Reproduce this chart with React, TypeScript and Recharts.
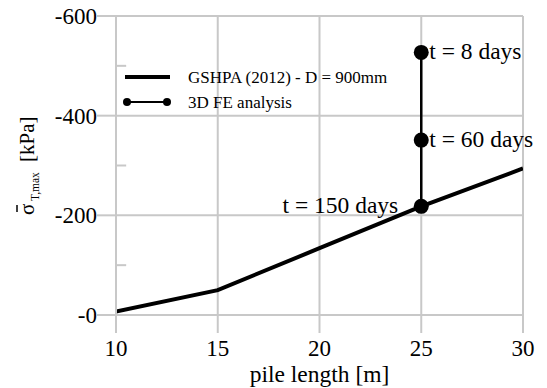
import React from 'react';
import {
  LineChart,
  Line,
  XAxis,
  YAxis,
  CartesianGrid,
  ReferenceLine,
  LabelList,
  Label,
} from 'recharts';

// GSHPA (2012) design curve, D = 900mm
const pileLengths = [10, 15, 20, 25, 30];
const gshpaStress = [-7, -50, -134, -218, -294];

// 3D FE analysis at 25 m pile
const feLength = 25;
const feStress = [-527, -351, -218];
const feLabels = ['t = 8 days', 't = 60 days', 't = 150 days'];
const feLabelSide = ['right', 'right', 'left'];

const xTicks = [10, 15, 20, 25, 30];
const yTicks = [-600, -400, -200, 0];
const yMinorTicks = [-500, -300, -100];
const seriesNames = ['GSHPA (2012) - D = 900mm', '3D FE analysis'];

const FONT = "'Liberation Serif', 'Times New Roman', serif";
const GRID = '#c8c8c8';

const gshpaData = pileLengths.map((x, i) => ({ x, y: gshpaStress[i] }));
const feData = feStress.map((y, i) => ({
  x: feLength,
  y,
  label: feLabels[i],
  side: feLabelSide[i],
}));

// zero is shown as "-0" on the stress axis
const formatY = (v: number) => '-' + Math.abs(v);

const XTick = (props: any) => (
  <text
    x={props.x}
    y={props.y}
    dy={17}
    textAnchor="middle"
    style={{ fontFamily: FONT }}
    fontSize={23}
    fill="#000"
  >
    {props.payload.value}
  </text>
);

const YTick = (props: any) => (
  <text
    x={props.x}
    y={props.y}
    dy={8}
    textAnchor="end"
    style={{ fontFamily: FONT }}
    fontSize={23}
    fill="#000"
  >
    {formatY(props.payload.value)}
  </text>
);

const renderFeLabel = (props: any) => {
  const { x, y, index } = props;
  const side = feData[index].side;
  return (
    <text
      x={side === 'right' ? x + 8 : x - 23}
      y={y}
      dy="0.3em"
      textAnchor={side === 'right' ? 'start' : 'end'}
      style={{ fontFamily: FONT }}
      fontSize={23.5}
      fill="#000"
    >
      {feData[index].label}
    </text>
  );
};

const YLabel = (props: any) => {
  const { viewBox } = props;
  const cx = viewBox.x + 34;
  const cy = viewBox.y + 149;
  return (
    <g
      transform={`translate(${cx},${cy}) rotate(-90)`}
      style={{ fontFamily: FONT }}
      fill="#000"
    >
      <line x1={-47} x2={-40} y1={-17} y2={-17} stroke="#000" strokeWidth={1.5} />
      <text x={-50} y={0} fontSize={21}>σ</text>
      <text x={-36} y={5} fontSize={11.5}>T,max</text>
      <text x={3} y={0} fontSize={21}>[kPa]</text>
    </g>
  );
};

const XLabel = (props: any) => {
  const { viewBox } = props;
  return (
    <text
      x={viewBox.x + viewBox.width / 2}
      y={viewBox.y + 67}
      textAnchor="middle"
      style={{ fontFamily: FONT }}
      fontSize={23.5}
      fill="#000"
    >
      pile length [m]
    </text>
  );
};

const ChartLegend = () => (
  <g style={{ fontFamily: FONT }} fontSize={17} fill="#000">
    <line x1={125} x2={170} y1={77} y2={77} stroke="#000" strokeWidth={4} />
    <text x={188} y={77} dy="0.33em">{seriesNames[0]}</text>
    <line x1={127} x2={167} y1={102} y2={102} stroke="#000" strokeWidth={2} />
    <circle cx={127} cy={102} r={4} fill="#000" />
    <circle cx={167} cy={102} r={4} fill="#000" />
    <text x={188} y={102} dy="0.33em">{seriesNames[1]}</text>
  </g>
);

export default function App() {
  return (
    <div
      style={{
        position: 'absolute',
        left: 0,
        top: 0,
        background: '#fff',
        fontFamily: FONT,
      }}
    >
      <LineChart
        width={547}
        height={388}
        margin={{ top: 16, right: 24, left: 0, bottom: 0 }}
      >
        <CartesianGrid stroke={GRID} strokeWidth={2} />
        <XAxis
          type="number"
          dataKey="x"
          domain={[10, 30]}
          ticks={xTicks}
          allowDataOverflow
          height={73}
          tickSize={18}
          tickMargin={6}
          stroke={GRID}
          strokeWidth={2}
          tickLine={{ stroke: GRID, strokeWidth: 2 }}
          tick={<XTick />}
        >
          <Label content={<XLabel />} />
        </XAxis>
        <YAxis
          type="number"
          dataKey="y"
          domain={[-600, 0]}
          ticks={yTicks}
          reversed
          allowDataOverflow
          width={116}
          tickSize={19}
          tickMargin={0}
          stroke={GRID}
          strokeWidth={2}
          tickLine={{ stroke: GRID, strokeWidth: 2 }}
          tick={<YTick />}
        >
          <Label content={<YLabel />} />
        </YAxis>
        {yMinorTicks.map((v) => (
          <ReferenceLine
            key={v}
            segment={[
              { x: 10, y: v },
              { x: 10.5, y: v },
            ]}
            stroke={GRID}
            strokeWidth={2}
          />
        ))}
        <Line
          data={gshpaData}
          dataKey="y"
          type="linear"
          stroke="#000"
          strokeWidth={4}
          dot={false}
          isAnimationActive={false}
        />
        <Line
          data={feData}
          dataKey="y"
          type="linear"
          stroke="#000"
          strokeWidth={2.5}
          dot={{ r: 7.5, fill: '#000', stroke: '#000', strokeWidth: 0 }}
          isAnimationActive={false}
        >
          <LabelList dataKey="label" content={renderFeLabel} />
        </Line>
        <ChartLegend />
      </LineChart>
    </div>
  );
}
